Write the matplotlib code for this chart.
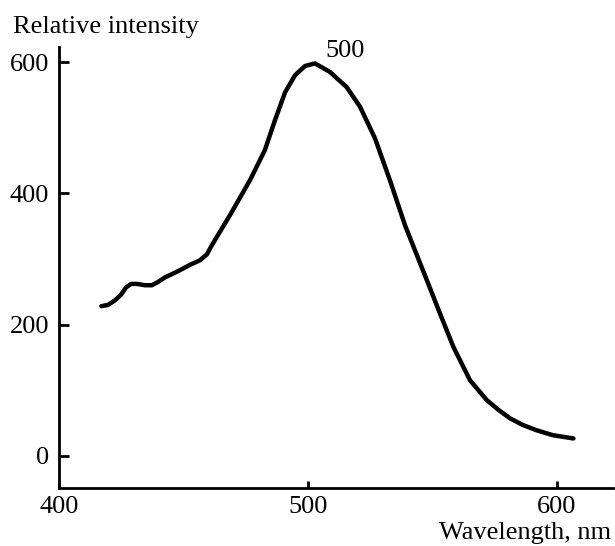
import matplotlib
matplotlib.use("Agg")
import matplotlib.pyplot as plt

wavelength = [417, 419.7, 422.5, 425, 427, 429, 431.3, 434.5, 437.3, 439.8, 442.6, 445.4,
              448.6, 452.6, 456.6, 459.4, 461.4, 468.7, 476.7, 482.7, 486.7, 490.8, 494.8,
              498.8, 502.8, 508.8, 515.5, 520.9, 526.9, 532.9, 539, 547.7, 553, 558.4,
              565.1, 571.8, 576.5, 581.2, 586.3, 591.8, 598.3, 606.6]
intensity = [228, 230, 237, 246, 257, 262, 262, 260, 260, 265, 272, 277,
             283, 291, 298, 307, 321, 367, 420, 466, 511, 554, 580,
             594, 598, 585, 562, 532, 484, 420, 351, 268, 217, 166,
             115, 85, 70, 57, 47, 39, 31.5, 26.5]
x_ticks = [400, 500, 600]
y_ticks = [0, 200, 400, 600]
peak_label = "500"
peak_pos = (514.9, 617)

plt.rcParams['font.family'] = ['Liberation Serif', 'DejaVu Serif']

fig = plt.figure(figsize=(6.15, 5.46), dpi=100)
ax = fig.add_axes([59/615, 58/546, (613-59)/615, (488-47)/546])
ax.plot(wavelength, intensity, color='black', lw=3.2, solid_capstyle='round', solid_joinstyle='round')
ax.set_xlim(400, 622.5)
ax.set_ylim(-49, 623)
ax.set_xticks(x_ticks)
ax.set_yticks(y_ticks)
for s in ['top', 'right']:
    ax.spines[s].set_visible(False)
for s in ['left', 'bottom']:
    ax.spines[s].set_linewidth(2.0)
ax.tick_params(axis='x', direction='in', length=5, width=2, labelsize=19, pad=6)
ax.tick_params(axis='y', direction='in', length=7, width=2, labelsize=19, pad=7)
ax.text(peak_pos[0], peak_pos[1], peak_label, fontsize=19, ha='center', va='center')
fig.text(13/615, 1 - 33/546, "Relative intensity", fontsize=19, ha='left', va='baseline')
fig.text(611/615, 1 - 539/546, "Wavelength, nm", fontsize=19, ha='right', va='baseline')
fig.savefig("out.png", dpi=100)
